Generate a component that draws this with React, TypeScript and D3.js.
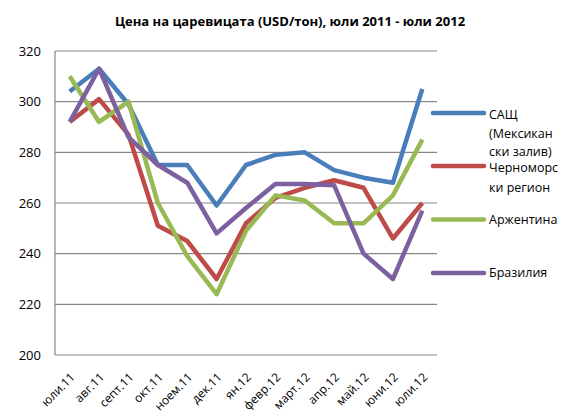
import { useEffect, useRef } from 'react'
import * as d3 from 'd3'

const months = ['юли.11', 'авг.11', 'септ.11', 'окт.11', 'ноем.11', 'дек.11', 'ян.12', 'февр.12', 'март.12', 'апр.12', 'май.12', 'юни.12', 'юли.12']
const usa = [304, 313, 299, 275, 275, 259, 275, 279, 280, 273, 270, 268, 305]
const blackSea = [292, 301, 287, 251, 245, 230, 252, 262, 266, 269, 266, 246, 260]
const argentina = [310, 292, 300, 260, 239, 224, 249, 263, 261, 252, 252, 263, 285]
const brazil = [292, 313, 286, 275, 268, 248, 258, 267.5, 267.5, 267, 240, 230, 257]
const yTicks = [200, 220, 240, 260, 280, 300, 320]

const seriesNames = ['САЩ (Мексикански залив)', 'Черноморски регион', 'Аржентина', 'Бразилия']
// wrapped the way the original legend breaks them
const legendLines = [['САЩ', '(Мексикан', 'ски залив)'], ['Черноморс', 'ки регион'], ['Аржентина'], ['Бразилия']]
const colors = ['#4A7EBB', '#BE4B48', '#98B954', '#7D60A0']

const title = 'Цена на царевицата (USD/тон), юли 2011 - юли 2012'

export default function App() {
  const svgRef = useRef<SVGSVGElement>(null)
  const width = 566
  const height = 412

  useEffect(() => {
    if (!svgRef.current) return
    const svg = d3.select(svgRef.current)
    svg.selectAll('*').remove()

    const font = '"Open Sans", "Noto Sans", sans-serif'
    const plot = { left: 55, right: 437, top: 51, bottom: 355 }

    const x = d3.scalePoint<string>()
      .domain(months)
      .range([plot.left, plot.right])
      .padding(0.5)

    const y = d3.scaleLinear()
      .domain([200, 320])
      .range([plot.bottom, plot.top])

    // title
    svg.append('text')
      .attr('x', 290)
      .attr('y', 26)
      .attr('text-anchor', 'middle')
      .style('font-family', font)
      .style('font-size', '13px')
      .style('font-weight', 'bold')
      .style('fill', '#000')
      .text(title)

    // grid lines
    svg.append('g')
      .selectAll('line')
      .data(yTicks)
      .enter().append('line')
      .attr('x1', plot.left)
      .attr('x2', plot.right)
      .attr('y1', d => y(d))
      .attr('y2', d => y(d))
      .attr('stroke', '#868686')
      .attr('stroke-width', 1.2)

    // left axis line
    svg.append('line')
      .attr('x1', plot.left).attr('x2', plot.left)
      .attr('y1', plot.top).attr('y2', plot.bottom)
      .attr('stroke', '#868686')
      .attr('stroke-width', 1.2)

    // y labels
    svg.append('g')
      .selectAll('text')
      .data(yTicks)
      .enter().append('text')
      .attr('x', 41)
      .attr('y', d => y(d))
      .attr('dy', '0.35em')
      .attr('text-anchor', 'end')
      .style('font-family', font)
      .style('font-size', '13px')
      .style('fill', '#000')
      .text(d => d)

    // x labels
    svg.append('g')
      .selectAll('text')
      .data(months)
      .enter().append('text')
      .attr('transform', d => `translate(${(x(d) ?? 0) + 3},${plot.bottom + 20}) rotate(-45)`)
      .attr('text-anchor', 'end')
      .attr('dy', '0.35em')
      .style('font-family', font)
      .style('font-size', '12px')
      .style('fill', '#000')
      .text(d => d)

    const line = d3.line<number>()
      .x((_, i) => x(months[i]) ?? 0)
      .y(d => y(d))

    const allSeries = [usa, blackSea, argentina, brazil]
    allSeries.forEach((s, i) => {
      svg.append('path')
        .datum(s)
        .attr('fill', 'none')
        .attr('stroke', colors[i])
        .attr('stroke-width', 4.5)
        .attr('stroke-linejoin', 'round')
        .attr('d', line)
    })

    // legend
    const markerY = [113, 166, 219.5, 273]
    const textY = [[115, 133.5, 151.5], [168, 188], [219.5], [273]]
    const legend = svg.append('g').attr('class', 'legend')
    seriesNames.forEach((name, i) => {
      legend.append('line')
        .attr('x1', 433).attr('x2', 484)
        .attr('y1', markerY[i]).attr('y2', markerY[i])
        .attr('stroke', colors[i])
        .attr('stroke-width', 4.5)
        .attr('stroke-linecap', 'round')
        .append('title').text(name)
      legendLines[i].forEach((t, j) => {
        legend.append('text')
          .attr('x', 489)
          .attr('y', textY[i][j])
          .attr('dy', '0.35em')
          .style('font-family', font)
          .style('font-size', '12.5px')
          .style('fill', '#000')
          .text(t)
      })
    })
  }, [])

  return (
    <svg
      ref={svgRef}
      width={width}
      height={height}
      style={{ position: 'absolute', left: 0, top: 0, background: '#fff' }}
    />
  )
}
